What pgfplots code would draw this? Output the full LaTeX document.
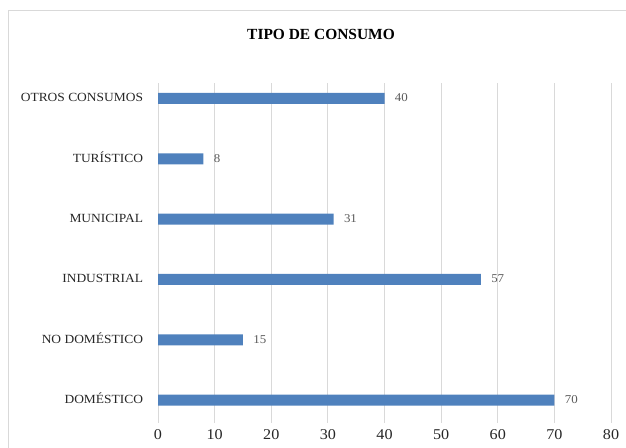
\documentclass[border=0pt]{standalone}
\usepackage{fontspec}
\setmainfont{Liberation Serif}[FakeStretch=1.08]
\newfontfamily\titlefont{Liberation Serif}
\usepackage{pgfplots}
\pgfplotsset{compat=1.18}
\definecolor{barblue}{HTML}{4F81BD}
\definecolor{gridgray}{HTML}{D9D9D9}
\definecolor{labgray}{HTML}{595959}
\definecolor{txt}{HTML}{262626}
\begin{document}
\begin{tikzpicture}[x=1bp,y=1bp]
\useasboundingbox (0,0) rectangle (626,448);
\draw[gridgray, line width=0.8bp] (8,0) -- (8,438) -- (626,438);
\node[font=\titlefont\fontsize{15.5}{18}\selectfont\bfseries, text=black] at (321,414) {TIPO DE CONSUMO};
\begin{axis}[
  at={(158bp,25bp)}, anchor=south west,
  scale only axis, width=453bp, height=340bp,
  xbar, bar width=11bp,
  xmin=0, xmax=80, ymin=-0.38, ymax=5.257,
  xtick={0,10,...,80},
  ytick={0,1,2,3,4,5},
  yticklabels={DOMÉSTICO, NO DOMÉSTICO, INDUSTRIAL, MUNICIPAL, TURÍSTICO, OTROS CONSUMOS},
  xmajorgrids, major grid style={gridgray, line width=0.8bp},
  axis line style={draw=none},
  major tick length=0pt,
  /pgf/number format/assume math mode=true,
  xticklabel style={font=\fontsize{15}{17}\selectfont, text=txt, yshift=-3.5pt},
  yticklabel style={font=\fontsize{12.5}{14}\selectfont, text=txt, text height=0.662em, text depth=0pt, xshift=-11.5pt},
  nodes near coords,
  nodes near coords style={font=\fontsize{12}{14}\selectfont, text=labgray, anchor=west, xshift=7pt, text height=0.676em, text depth=0pt},
  clip=false,
]
\addplot[fill=barblue, draw=none] coordinates {(70,0) (15,1) (57,2) (31,3) (8,4) (40,5)};
\end{axis}
\end{tikzpicture}
\end{document}
